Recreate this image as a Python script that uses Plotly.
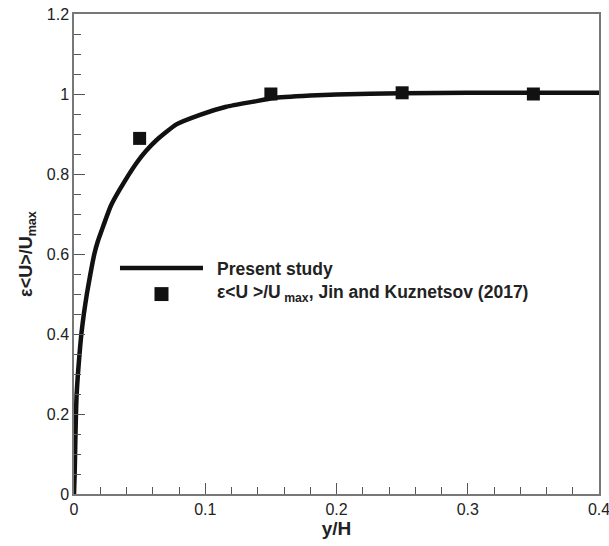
import plotly.graph_objects as go

# Present study curve
curve_x = [0, 0.0005, 0.001, 0.0015, 0.002, 0.003, 0.0042, 0.0056, 0.0075, 0.0098, 0.0125,
           0.0155, 0.018, 0.0223, 0.028, 0.035, 0.0475, 0.055, 0.063, 0.078, 0.096,
           0.116, 0.137, 0.152, 0.18, 0.2, 0.25, 0.3, 0.35, 0.4]
curve_y = [0, 0.05, 0.13, 0.2, 0.25, 0.30, 0.35, 0.40, 0.45, 0.50, 0.55,
           0.60, 0.63, 0.67, 0.72, 0.762, 0.827, 0.858, 0.885, 0.924, 0.948,
           0.968, 0.981, 0.99, 0.996, 0.999, 1.002, 1.003, 1.003, 1.003]

# Jin and Kuznetsov (2017)
ref_x = [0.05, 0.15, 0.25, 0.35]
ref_y = [0.889, 1.0, 1.003, 1.0]

x_ticks = [0, 0.1, 0.2, 0.3, 0.4]
x_labels = ["0", "0.1", "0.2", "0.3", "0.4"]
y_ticks = [0, 0.2, 0.4, 0.6, 0.8, 1.0, 1.2]
y_labels = ["0", "0.2", "0.4", "0.6", "0.8", "1", "1.2"]

FONT = "Liberation Sans, Arial, sans-serif"

fig = go.Figure()
fig.add_trace(go.Scatter(x=curve_x, y=curve_y, mode="lines",
                         line=dict(color="#111111", width=4.5, shape="spline", smoothing=0.5),
                         showlegend=False, hoverinfo="skip"))
fig.add_trace(go.Scatter(x=ref_x, y=ref_y, mode="markers",
                         marker=dict(symbol="square", size=13, color="#111111"),
                         showlegend=False, hoverinfo="skip"))

axis_common = dict(
    showgrid=False, zeroline=False, showline=True, linecolor="#777777", linewidth=1.5,
    mirror=True, ticks="inside", ticklen=11, tickwidth=1, tickcolor="#555555",
    tickfont=dict(family=FONT, size=16, color="#222222"), automargin=False,
    ticklabeloverflow="allow",
)

fig.update_xaxes(range=[0, 0.4], tickvals=x_ticks, ticktext=x_labels,
                 minor=dict(dtick=0.02, ticks="inside", ticklen=7, tickwidth=1, tickcolor="#555555"),
                 title=dict(text="<b>y/H</b>", font=dict(family=FONT, size=19, color="#222222"), standoff=4),
                 **axis_common)
fig.update_yaxes(range=[0, 1.2], tickvals=y_ticks, ticktext=y_labels,
                 minor=dict(dtick=0.05, ticks="inside", ticklen=7, tickwidth=1, tickcolor="#555555"),
                 title=dict(text="<b>ε&lt;U&gt;/U<sub>max</sub></b>", font=dict(family=FONT, size=18, color="#222222"), standoff=9),
                 **axis_common)

# custom legend
fig.add_shape(type="line", xref="paper", yref="paper", x0=0.0876, x1=0.2457, y0=0.471, y1=0.471,
              line=dict(color="#111111", width=4.5))
fig.add_shape(type="rect", xref="paper", yref="paper", x0=0.1533, x1=0.18, y0=0.402, y1=0.431,
              line=dict(width=0), fillcolor="#111111")
fig.add_annotation(xref="paper", yref="paper", x=0.269, y=0.469, xanchor="left", yanchor="middle",
                   text="<b>Present study</b>", showarrow=False,
                   font=dict(family=FONT, size=17.5, color="#222222"))
fig.add_annotation(xref="paper", yref="paper", x=0.269, y=0.417, xanchor="left", yanchor="middle",
                   text="<b>ε&lt;U &gt;/U<sub> max</sub>, Jin and Kuznetsov (2017)</b>", showarrow=False,
                   font=dict(family=FONT, size=17.5, color="#222222"))

fig.update_layout(width=609, height=546, margin=dict(l=74, r=10, t=14, b=52),
                  plot_bgcolor="white", paper_bgcolor="white")

fig.write_html("out.html", config={"displayModeBar": False},
               post_script="document.body.style.margin='0';document.body.style.overflow='hidden';")
